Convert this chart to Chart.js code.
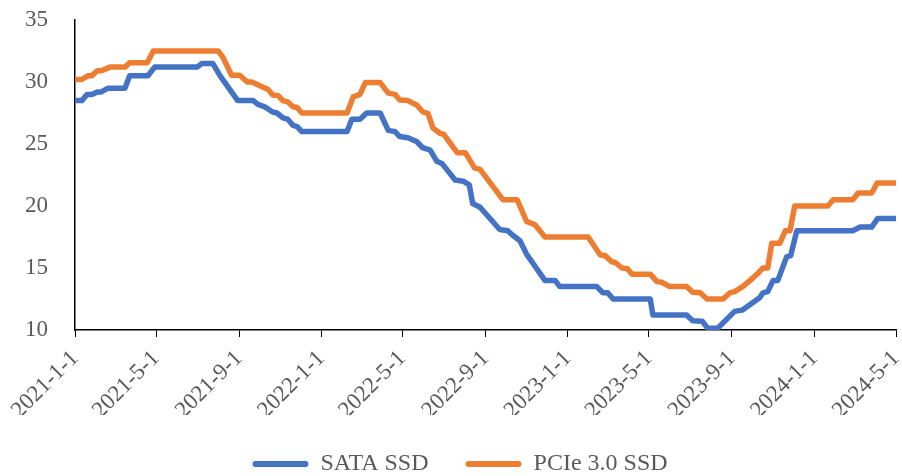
<!DOCTYPE html>
<html>
<head>
<meta charset="utf-8">
<script src="https://cdn.jsdelivr.net/npm/chart.js@4.4.1/dist/chart.umd.min.js"></script>
<style>
  html, body { margin: 0; padding: 0; background: #fff; }
  #wrap { width: 902px; height: 476px; }
</style>
</head>
<body>
<div id="wrap"><canvas id="ssd-chart"></canvas></div>
<script>
// tick labels on the date axis
var tickDates = ['2021-1-1', '2021-5-1', '2021-9-1', '2022-1-1', '2022-5-1', '2022-9-1',
                 '2023-1-1', '2023-5-1', '2023-9-1', '2024-1-1', '2024-5-1'];

// SATA SSD
var sataDates = ['2021-01-01','2021-01-11','2021-01-19','2021-01-26','2021-02-03','2021-02-09','2021-02-19','2021-03-16',
  '2021-03-23','2021-04-19','2021-04-29','2021-07-01','2021-07-08','2021-07-24','2021-08-04','2021-08-30',
  '2021-09-22','2021-09-29','2021-10-09','2021-10-20','2021-10-27','2021-11-05','2021-11-12','2021-11-20',
  '2021-11-26','2021-12-03','2022-02-08','2022-02-15','2022-02-27','2022-03-09','2022-03-29','2022-04-10',
  '2022-04-20','2022-04-27','2022-05-09','2022-05-22','2022-05-31','2022-06-11','2022-06-21','2022-06-29',
  '2022-07-18','2022-07-30','2022-08-08','2022-08-13','2022-08-24','2022-09-22','2022-10-04','2022-10-10',
  '2022-10-22','2022-11-01','2022-11-10','2022-11-28','2022-12-13','2022-12-20','2023-02-13','2023-02-22',
  '2023-03-01','2023-03-09','2023-05-03','2023-05-07','2023-06-26','2023-07-05','2023-07-19','2023-07-27',
  '2023-08-11','2023-09-05','2023-09-16','2023-10-12','2023-10-17','2023-10-24','2023-11-01','2023-11-08',
  '2023-11-21','2023-11-27','2023-12-06','2024-02-27','2024-03-09','2024-03-26','2024-04-04','2024-05-01'];
var sataValues = [28.5, 28.5, 29.0, 29.0, 29.2, 29.2, 29.5, 29.5,
  30.5, 30.5, 31.2, 31.2, 31.5, 31.5, 30.5, 28.5,
  28.5, 28.2, 28.0, 27.6, 27.5, 27.1, 27.0, 26.5,
  26.4, 26.0, 26.0, 27.0, 27.0, 27.5, 27.5, 26.1,
  26.0, 25.6, 25.5, 25.2, 24.7, 24.5, 23.6, 23.4,
  22.1, 22.0, 21.7, 20.2, 19.9, 18.1, 18.0, 17.7,
  17.2, 16.1, 15.4, 14.0, 14.0, 13.5, 13.5, 13.0,
  13.0, 12.5, 12.5, 11.2, 11.2, 10.75, 10.7, 10.15,
  10.15, 11.5, 11.6, 12.6, 13.0, 13.1, 14.0, 14.0,
  15.9, 16.0, 18.0, 18.0, 18.3, 18.3, 19.0, 19.0];

// PCIe 3.0 SSD
var pcieDates = ['2021-01-01','2021-01-11','2021-01-20','2021-01-26','2021-02-03','2021-02-09','2021-02-22','2021-03-16',
  '2021-03-23','2021-04-18','2021-04-27','2021-08-01','2021-08-08','2021-08-21','2021-09-02','2021-09-13',
  '2021-09-20','2021-10-06','2021-10-14','2021-10-21','2021-10-29','2021-11-05','2021-11-12','2021-11-20',
  '2021-11-26','2021-12-03','2022-02-08','2022-02-17','2022-02-27','2022-03-07','2022-03-29','2022-04-10',
  '2022-04-20','2022-04-27','2022-05-09','2022-05-22','2022-05-31','2022-06-08','2022-06-15','2022-06-26',
  '2022-07-01','2022-07-21','2022-08-02','2022-08-16','2022-08-24','2022-09-27','2022-10-18','2022-11-01',
  '2022-11-13','2022-11-28','2023-01-31','2023-02-18','2023-02-25','2023-03-07','2023-03-12','2023-03-22',
  '2023-03-30','2023-04-06','2023-05-03','2023-05-13','2023-05-20','2023-06-01','2023-06-26','2023-07-05',
  '2023-07-16','2023-07-26','2023-08-19','2023-08-29','2023-09-05','2023-09-17','2023-09-28','2023-10-10',
  '2023-10-17','2023-10-24','2023-10-30','2023-11-11','2023-11-19','2023-11-26','2023-12-03','2024-01-21',
  '2024-01-29','2024-02-27','2024-03-06','2024-03-26','2024-04-03','2024-05-01'];
var pcieValues = [30.2, 30.2, 30.5, 30.5, 30.9, 30.9, 31.2, 31.2,
  31.55, 31.55, 32.5, 32.5, 32.0, 30.55, 30.55, 30.0,
  30.0, 29.6, 29.4, 28.95, 28.9, 28.5, 28.4, 28.0,
  27.95, 27.5, 27.5, 28.8, 29.0, 29.95, 29.95, 29.1,
  29.0, 28.55, 28.5, 28.15, 27.6, 27.45, 26.3, 25.85,
  25.8, 24.3, 24.3, 23.05, 22.95, 20.5, 20.5, 18.75,
  18.5, 17.5, 17.5, 16.05, 16.0, 15.5, 15.45, 15.0,
  14.95, 14.5, 14.5, 13.9, 13.85, 13.5, 13.5, 13.05,
  13.0, 12.5, 12.5, 13.0, 13.1, 13.5, 14.0, 14.6,
  15.0, 15.0, 17.0, 17.0, 18.0, 18.0, 20.0, 20.0,
  20.5, 20.5, 21.05, 21.05, 21.85, 21.85];

// days since 2021-1-1
function dayOf(s) {
  var p = s.split('-');
  return (Date.UTC(+p[0], +p[1] - 1, +p[2]) - Date.UTC(2021, 0, 1)) / 86400000;
}
function toPoints(dates, values) {
  return dates.map(function (d, i) { return {x: dayOf(d), y: values[i]}; });
}

var fontFam = "'Liberation Serif', 'Times New Roman', serif";
var gray = '#595959';

// nudge the legend a little right, like the original
var legendShift = {
  id: 'legendShift',
  afterLayout: function (chart) {
    chart.legend.left += 12;
    chart.legend.right += 12;
  }
};

var ctx = document.getElementById('ssd-chart').getContext('2d');
var chart = new Chart(ctx, {
  type: 'line',
  data: {
    datasets: [{
      label: 'SATA SSD',
      data: toPoints(sataDates, sataValues),
      borderColor: '#4472C4',
      backgroundColor: '#4472C4',
      borderWidth: 5.5,
      borderJoinStyle: 'round',
      borderCapStyle: 'round',
      pointRadius: 0,
      tension: 0
    }, {
      label: 'PCIe 3.0 SSD',
      data: toPoints(pcieDates, pcieValues),
      borderColor: '#ED7D31',
      backgroundColor: '#ED7D31',
      borderWidth: 5.5,
      borderJoinStyle: 'round',
      borderCapStyle: 'round',
      pointRadius: 0,
      tension: 0
    }]
  },
  plugins: [legendShift],
  options: {
    responsive: true,
    maintainAspectRatio: false,
    animation: false,
    layout: { padding: { top: 20, right: 6, left: 0, bottom: -10 } },
    scales: {
      x: {
        type: 'linear',
        min: 0,
        max: dayOf('2024-05-01'),
        afterBuildTicks: function (scale) {
          scale.ticks = tickDates.map(function (t) { return {value: dayOf(t)}; });
        },
        afterFit: function (scale) {
          scale.height = 85;
          scale.paddingLeft = 0;
          scale.paddingRight = 0;
        },
        grid: { drawOnChartArea: false, drawTicks: true, tickLength: 7, color: '#000', lineWidth: 1 },
        border: { display: true, color: '#000', width: 1.5 },
        ticks: {
          autoSkip: false,
          minRotation: 45,
          maxRotation: 45,
          padding: 8,
          color: gray,
          font: { family: fontFam, size: 23 },
          callback: function (value, index) { return tickDates[index]; }
        }
      },
      y: {
        min: 10,
        max: 35,
        afterFit: function (scale) {
          scale.width = 75;
          scale.paddingTop = 0;
          scale.paddingBottom = 0;
        },
        grid: { drawOnChartArea: false, drawTicks: false },
        border: { display: true, color: '#000', width: 1.5 },
        ticks: {
          stepSize: 5,
          padding: 27,
          color: gray,
          font: { family: fontFam, size: 23 }
        }
      }
    },
    plugins: {
      legend: {
        position: 'bottom',
        labels: {
          boxWidth: 56,
          boxHeight: 6,
          padding: 37,
          color: gray,
          font: { family: fontFam, size: 24 },
          generateLabels: function (chart) {
            var items = Chart.defaults.plugins.legend.labels.generateLabels(chart);
            items.forEach(function (it) {
              it.fillStyle = it.strokeStyle;
              it.lineWidth = 0;
              it.borderRadius = 3;
            });
            return items;
          }
        }
      },
      tooltip: { enabled: false }
    }
  }
});
</script>
</body>
</html>
